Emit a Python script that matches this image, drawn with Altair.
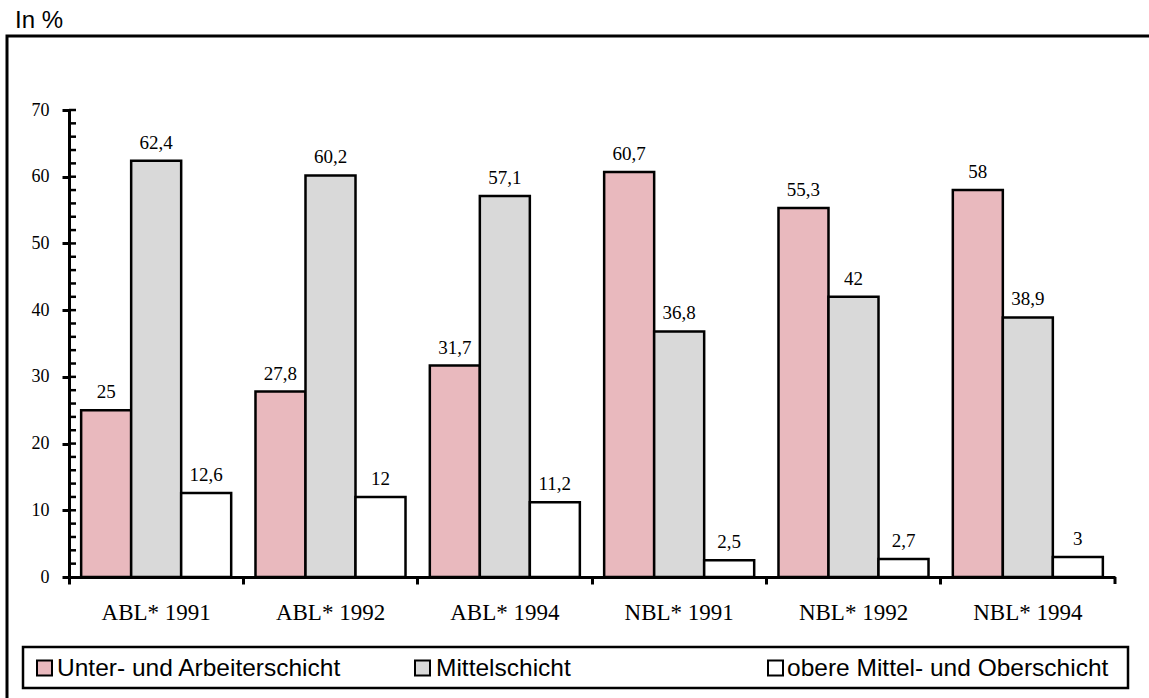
import altair as alt
import pandas as pd

# Social self-placement by region and survey year (shares in %)
groups = ["ABL* 1991", "ABL* 1992", "ABL* 1994", "NBL* 1991", "NBL* 1992", "NBL* 1994"]
series = ["Unter- und Arbeiterschicht", "Mittelschicht", "obere Mittel- und Oberschicht"]
unter = [25, 27.8, 31.7, 60.7, 55.3, 58]
mittel = [62.4, 60.2, 57.1, 36.8, 42, 38.9]
obere = [12.6, 12, 11.2, 2.5, 2.7, 3]
y_major = [0, 10, 20, 30, 40, 50, 60, 70]
y_minor = [2, 4, 6, 8, 10, 12, 14, 16, 18, 20, 22, 24, 26, 28, 30, 32, 34, 36,
           38, 40, 42, 44, 46, 48, 50, 52, 54, 56, 58, 60, 62, 64, 66, 68, 70]

fills = ["#e9b9be", "#d9d9d9", "#ffffff"]

W, H = 1046, 467
SERIF = "Liberation Serif"
SANS = "Liberation Sans"

rows = []
for name, vals in zip(series, [unter, mittel, obere]):
    for g, v in zip(groups, vals):
        rows.append({"group": g, "series": name, "value": v})
df = pd.DataFrame(rows)

x_enc = alt.X(
    "group:N", sort=groups,
    scale=alt.Scale(paddingInner=0, paddingOuter=0),
    axis=alt.Axis(
        title=None, bandPosition=0, labelAngle=0,
        labelFont=SERIF, labelFontSize=23, labelColor="black", labelPadding=17,
        tickSize=7, tickWidth=3, tickColor="black",
        domainWidth=3, domainColor="black", grid=False, zindex=1,
    ),
)
xoff_enc = alt.XOffset("series:N", sort=series,
                       scale=alt.Scale(paddingOuter=0.243, paddingInner=0))
y_scale = alt.Scale(domain=[0, 70], nice=False)
y_enc = alt.Y(
    "value:Q", scale=y_scale,
    axis=alt.Axis(
        title=None, values=y_major, labelFont=SERIF, labelFontSize=18,
        labelColor="black", labelPadding=13, tickSize=7, tickWidth=3,
        tickColor="black", domainWidth=3, domainColor="black", grid=False,
        zindex=1,
    ),
)
color_enc = alt.Color("series:N", sort=series,
                      scale=alt.Scale(domain=series, range=fills), legend=None)

base = alt.Chart(df)

# outer frame around the figure
frame = alt.Chart(pd.DataFrame({"k": [0]})).mark_rect(
    fillOpacity=0, stroke="black", strokeWidth=3
).encode(x=alt.value(-62), x2=alt.value(W + 200), y=alt.value(-74), y2=alt.value(H + 200))

caption = alt.Chart(pd.DataFrame({"k": [0]})).mark_text(
    text="In %", font=SANS, fontSize=24, align="left", baseline="alphabetic", color="black"
).encode(x=alt.value(-54), y=alt.value(-82))

bars = base.mark_bar(stroke="black", strokeWidth=2.5).encode(
    x=x_enc, xOffset=xoff_enc, y=y_enc, color=color_enc
)

labels = base.transform_calculate(
    label="replace(toString(datum.value), '.', ',')"
).mark_text(
    font=SERIF, fontSize=19, baseline="alphabetic", dy=-12, color="black"
).encode(
    x=alt.X("group:N", sort=groups), xOffset=alt.XOffset("series:N", sort=series),
    y=alt.Y("value:Q"), text="label:N"
)

# inward minor ticks on the value axis
minor = alt.Chart(pd.DataFrame({"t": y_minor})).mark_rule(
    color="black", strokeWidth=2.5
).encode(x=alt.value(0), x2=alt.value(7), y=alt.Y("t:Q", scale=y_scale))

# closing tick at the right end of the category axis
end_tick = alt.Chart(pd.DataFrame({"k": [0]})).mark_rule(
    color="black", strokeWidth=3
).encode(x=alt.value(W), y=alt.value(H), y2=alt.value(H + 7))

# legend box
legend_box = alt.Chart(pd.DataFrame({"k": [0]})).mark_rect(
    fill="white", stroke="black", strokeWidth=2.5
).encode(x=alt.value(-46), x2=alt.value(1059), y=alt.value(537), y2=alt.value(578))

legend_sym_x = [-24.5, 353.5, 706.5]
legend_txt_x = [-12, 367, 718]
legend_layers = []
for name, fill, sx, tx in zip(series, fills, legend_sym_x, legend_txt_x):
    ld = pd.DataFrame({"series": [name]})
    legend_layers.append(
        alt.Chart(ld).mark_square(size=225, fill=fill, stroke="black",
                                  strokeWidth=2, opacity=1, fillOpacity=1)
        .encode(x=alt.value(sx), y=alt.value(558))
    )
    legend_layers.append(
        alt.Chart(ld).mark_text(font=SANS, fontSize=24.5, align="left",
                                baseline="middle", color="black")
        .encode(x=alt.value(tx), y=alt.value(559), text="series:N")
    )

chart = alt.layer(
    frame, caption, bars, labels, minor, end_tick, legend_box, *legend_layers
).properties(
    width=W, height=H,
    autosize=alt.AutoSizeParams(type="none"),
    padding={"left": 69, "top": 110, "right": 34, "bottom": 121},
    background="white",
).configure_view(stroke=None)

chart.save("out.html", embed_options={"renderer": "svg", "actions": False})
